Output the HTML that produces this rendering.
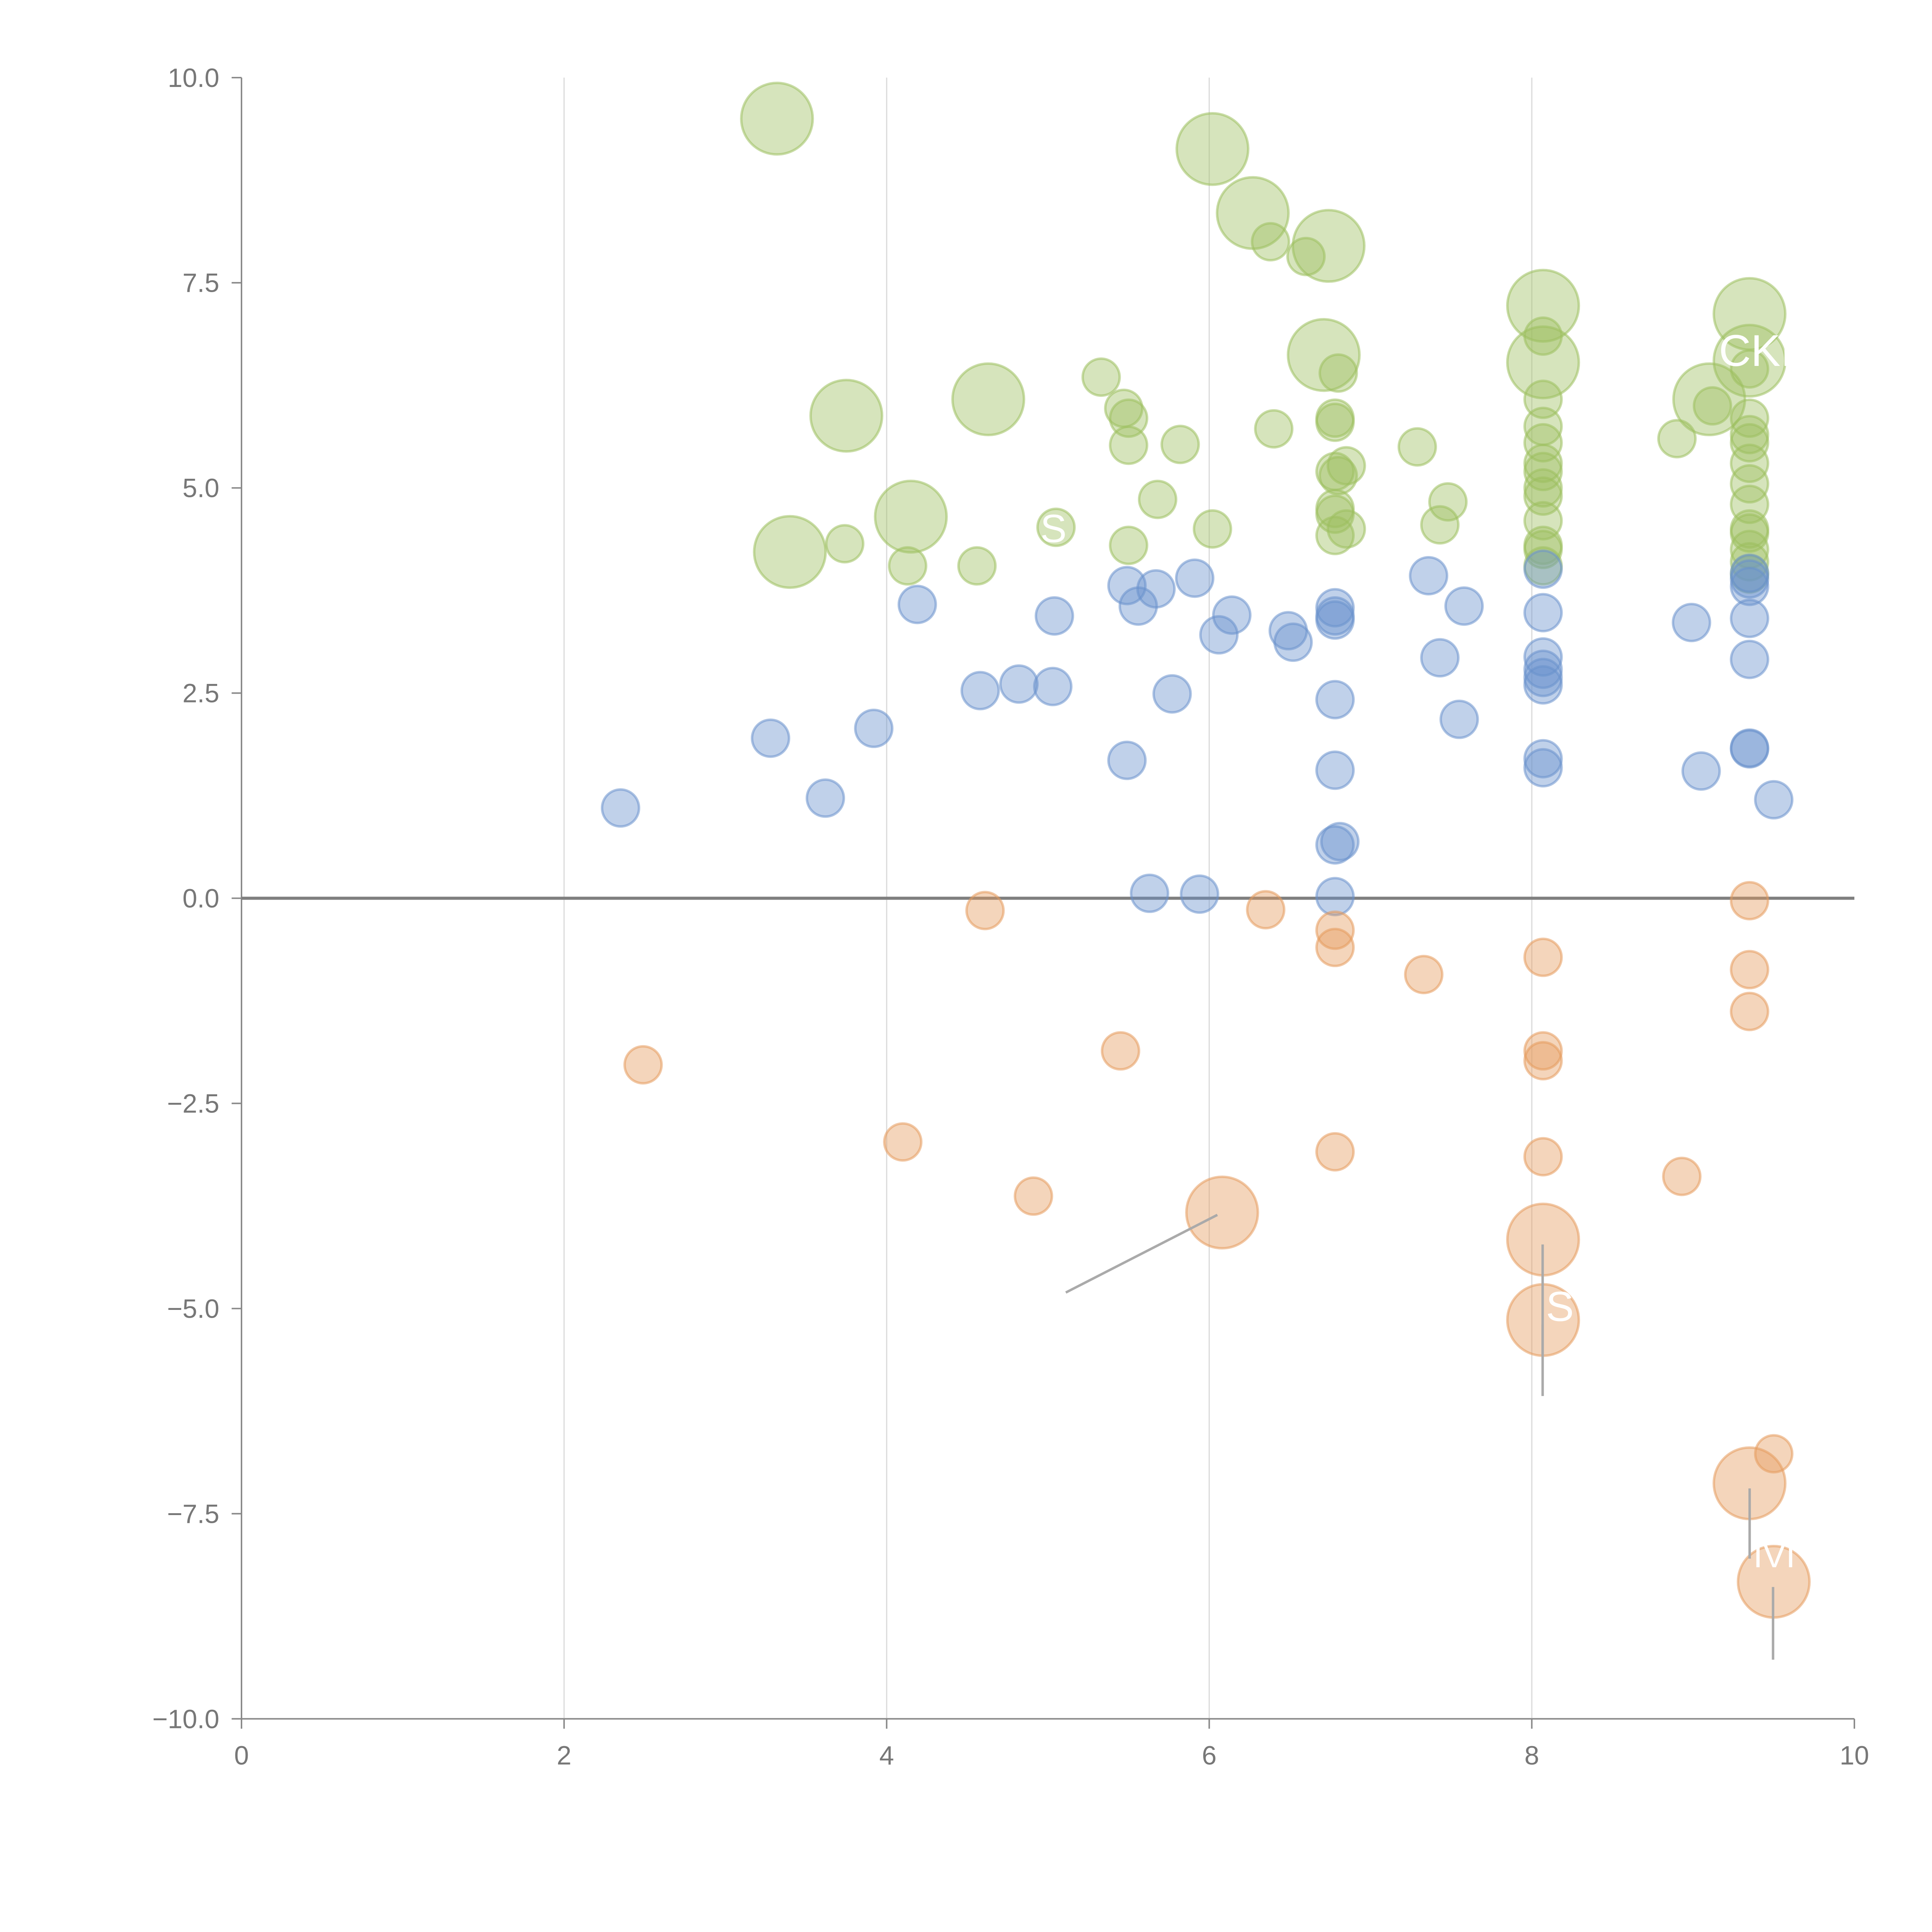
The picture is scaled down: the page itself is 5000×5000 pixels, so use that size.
<!DOCTYPE html>
<html><head><meta charset="utf-8"><style>
html,body{margin:0;padding:0;background:#fff}
svg{display:block}
text{font-family:"Liberation Sans",sans-serif}
</style></head><body>
<svg id="chart" width="5000" height="5000" viewBox="0 0 1568 1568" xmlns="http://www.w3.org/2000/svg">
<g id="grid"></g>
<g id="axes"></g>
<g id="marks"></g>
<g id="annot"></g>
</svg>
<script>
const xTicks=[0,2,4,6,8,10];
const yTicks=[10,7.5,5,2.5,0,-2.5,-5,-7.5,-10];
const yTickLabels=["10.0","7.5","5.0","2.5","0.0","\u22122.5","\u22125.0","\u22127.5","\u221210.0"];
const greenX=[3.32,6.02,6.27,6.74,8.07,9.35,6.71,8.07,9.35,9.1,3.75,4.63,4.15,3.4,
6.38,6.6,5.33,5.47,5.5,5.5,5.82,6.4,6.8,6.78,6.78,7.29,6.78,6.8,6.85,6.78,6.78,6.78,6.85,7.48,7.43,5.68,5.05,5.5,6.02,3.74,4.13,4.56,
8.07,8.07,8.07,8.07,8.07,8.07,8.07,8.07,8.07,8.07,8.07,8.07,8.9,9.12,9.35,9.35,9.35,9.35,9.35,9.35,9.35,9.35,9.35,9.35,9.35,9.35];
const greenY=[9.5,9.13,8.35,7.95,7.22,7.12,6.62,6.53,6.55,6.08,5.88,6.08,4.65,4.22,
8.0,7.82,6.35,5.97,5.85,5.52,5.53,5.72,6.4,5.85,5.8,5.5,5.2,5.15,5.27,4.75,4.68,4.42,4.5,4.83,4.55,4.86,4.52,4.3,4.5,4.32,4.05,4.05,
6.85,6.08,5.75,5.55,5.3,5.2,5.0,4.9,4.6,4.3,4.25,4.05,5.6,6.0,6.45,5.85,5.65,5.55,5.3,5.05,4.8,4.5,4.45,4.25,4.1,3.95];
const greenSize=[2,2,2,2,2,2,2,2,2,2,2,2,2,2];
const blueX=[2.35,3.28,3.62,3.92,4.19,4.58,4.82,5.03,5.04,5.49,5.49,5.56,5.67,5.77,5.91,6.06,6.14,6.49,6.52,6.78,6.78,6.78,6.78,6.78,6.78,6.78,6.81,5.63,5.94,7.36,7.43,7.58,7.55,8.07,8.07,8.07,8.07,8.07,8.07,8.07,8.07,8.99,9.05,9.35,9.35,9.35,9.35,9.35,9.35,9.35,9.5];
const blueY=[1.10,1.95,1.22,2.07,3.58,2.53,2.61,2.58,3.44,1.68,3.81,3.56,3.77,2.49,3.90,3.21,3.45,3.26,3.12,2.42,1.56,3.54,3.44,3.39,0.65,0.02,0.69,0.06,0.05,3.93,2.93,3.56,2.18,4.01,3.48,2.94,2.79,2.69,2.60,1.70,1.59,3.36,1.55,3.96,3.89,3.80,3.41,2.91,1.83,1.82,1.20];
const orangeX=[2.49,4.10,4.91,4.61,5.45,6.35,6.78,6.78,6.78,7.33,8.07,8.07,8.07,8.07,8.93,9.35,9.35,9.35,9.50,6.08,8.07,8.07,9.35,9.50];
const orangeY=[-2.03,-2.97,-3.63,-0.15,-1.86,-0.14,-0.39,-0.60,-3.09,-0.93,-0.72,-1.86,-1.98,-3.15,-3.39,-0.03,-0.87,-1.38,-6.77,-3.83,-4.16,-5.14,-7.13,-8.33];
const orangeBig=[19,20,21,22,23];

const X0=196,X1=1505,Y0=1395,Y1=63;
function sx(v){return X0+(v-0)/(10-0)*(X1-X0);}
function sy(v){return Y0-(v+10)/20*(Y0-Y1);}
const NS="http://www.w3.org/2000/svg";
function mk(p,tag,at){const e=document.createElementNS(NS,tag);for(const k in at)e.setAttribute(k,at[k]);p.appendChild(e);return e;}
const grid=document.getElementById('grid'),axes=document.getElementById('axes'),marks=document.getElementById('marks'),annot=document.getElementById('annot');

[2,4,6,8].forEach(v=>{const l=mk(grid,'line',{x1:sx(v),x2:sx(v),y1:Y1,y2:Y0,stroke:'#dcdcdc','stroke-width':1});

});

const la=mk(axes,'line',{x1:X0,x2:X0,y1:Y1,y2:Y0,stroke:'#888','stroke-width':1.2});


const ba=mk(axes,'line',{x1:X0,x2:X1,y1:Y0,y2:Y0,stroke:'#888','stroke-width':1.2});


yTicks.forEach((v,i)=>{const y=sy(v);
const t=mk(axes,'line',{x1:X0-8,x2:X0,y1:y,y2:y,stroke:'#888','stroke-width':1.2});


const tx=mk(axes,'text',{x:X0-18,y:y+7.5,'text-anchor':'end','font-size':21.5,fill:'#777'});tx.textContent=yTickLabels[i];

});
xTicks.forEach(v=>{const x=sx(v);
const t=mk(axes,'line',{x1:x,x2:x,y1:Y0,y2:Y0+8,stroke:'#888','stroke-width':1.2});


const tx=mk(axes,'text',{x:x,y:Y0+37,'text-anchor':'middle','font-size':21.5,fill:'#777'});tx.textContent=String(v);

});

function dot(x,y,r,col,name){const c=mk(marks,'circle',{cx:sx(x),cy:sy(y),r:r,fill:col,'fill-opacity':0.42,stroke:col,'stroke-opacity':0.55,'stroke-width':2});

}
greenX.forEach((x,i)=>dot(x,greenY[i],i<greenSize.length?29:15,'#9dbf5f','green-bubble'));
blueX.forEach((x,i)=>dot(x,blueY[i],15,'#6a92cc','blue-bubble'));
orangeX.forEach((x,i)=>dot(x,orangeY[i],orangeBig.includes(i)?29:15,'#e59a5c','orange-bubble'));

const z=mk(axes,'line',{x1:X0,x2:X1,y1:sy(0),y2:sy(0),stroke:'#7f7f7f','stroke-width':2.5});



[[988,986,865,1049],[1252,1010,1252,1100],[1252,1075,1252,1133],[1420,1208,1420,1265],[1439,1288,1439,1347]].forEach(s=>{
const l=mk(annot,'line',{x1:s[0],y1:s[1],x2:s[2],y2:s[3],stroke:'#aaa','stroke-width':2});

});
[["S",1266,1072,34],["IVI",1440,1272,28],["CKI",1425,297,36],["S",855,440,32]].forEach(s=>{
const t=mk(annot,'text',{x:s[1],y:s[2],'text-anchor':'middle','font-size':s[3],fill:'#fff'});t.textContent=s[0];

});
</script>
</body></html>
